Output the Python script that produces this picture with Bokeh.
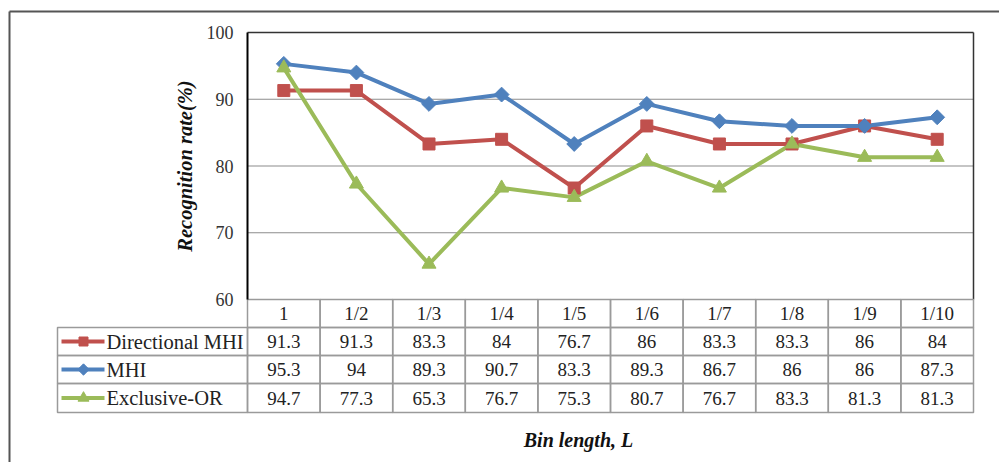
import math
from bokeh.plotting import figure
from bokeh.models import Range1d, LinearAxis, FixedTicker
from bokeh.core.properties import value
from bokeh.embed import file_html
from bokeh.resources import INLINE

# ---- data ----
bins = ["1", "1/2", "1/3", "1/4", "1/5", "1/6", "1/7", "1/8", "1/9", "1/10"]
directional_mhi = [91.3, 91.3, 83.3, 84, 76.7, 86, 83.3, 83.3, 86, 84]
mhi = [95.3, 94, 89.3, 90.7, 83.3, 89.3, 86.7, 86, 86, 87.3]
exclusive_or = [94.7, 77.3, 65.3, 76.7, 75.3, 80.7, 76.7, 83.3, 81.3, 81.3]
series_names = ["Directional MHI", "MHI", "Exclusive-OR"]
y_ticks = [60, 70, 80, 90, 100]
y_title = "Recognition rate(%)"
x_title = "Bin length, L"

# ---- canvas / plot-area geometry (pixels) ----
W, H = 999, 462
PL, PR, PT, PB = 247, 973, 32, 299          # plot area edges
YMIN, YMAX = y_ticks[0], y_ticks[-1]
n = len(bins)
xpx = (PR - PL) / n
ypx = (PB - PT) / (YMAX - YMIN)


def X(px):
    return (px - PL) / xpx


def Y(py):
    return YMIN + (PB - py) / ypx


FONT = value("Liberation Serif")
COLORS = ["#C0504D", "#4F81BD", "#9BBB59"]
GRID = "#9a9a9a"

p = figure(width=W, height=H, output_backend="svg", toolbar_location=None,
           x_range=Range1d(X(0), X(W)), y_range=Range1d(Y(H), Y(0)),
           x_axis_type=None, y_axis_type=None, min_border=0)
p.outline_line_color = None
p.background_fill_color = "white"
p.border_fill_color = "white"

# outer chart border
p.segment(x0=[X(9)], y0=[Y(11)], x1=[X(W + 5)], y1=[Y(11)], line_color="#555555", line_width=2)
p.segment(x0=[X(9)], y0=[Y(11)], x1=[X(9)], y1=[Y(H + 5)], line_color="#555555", line_width=2)

# horizontal gridlines and plot-area frame
inner = [t for t in y_ticks if YMIN < t < YMAX]
p.segment(x0=[0] * len(inner), y0=inner, x1=[n] * len(inner), y1=inner,
          line_color="#8c8c8c", line_width=1.2)
p.segment(x0=[0], y0=[YMAX], x1=[n], y1=[YMAX], line_color="#333333", line_width=1.5)
p.segment(x0=[n], y0=[YMIN], x1=[n], y1=[YMAX], line_color="#333333", line_width=1.5)

# y axis pinned to the left edge of the plot area
yaxis = LinearAxis(fixed_location=0, bounds=(YMIN, YMAX), ticker=FixedTicker(ticks=y_ticks),
                   axis_label=y_title)
yaxis.axis_line_color = "black"
yaxis.axis_line_width = 2
yaxis.major_tick_out = 0
yaxis.major_tick_in = 0
yaxis.minor_tick_out = 0
yaxis.minor_tick_in = 0
yaxis.major_label_standoff = 14
yaxis.major_label_text_font = "Liberation Serif"
yaxis.major_label_text_font_size = "18px"
yaxis.major_label_text_color = "#333333"
yaxis.axis_label_text_font = "Liberation Serif"
yaxis.axis_label_text_font_style = "bold italic"
yaxis.axis_label_text_font_size = "20.5px"
yaxis.axis_label_text_color = "#111111"
yaxis.axis_label_standoff = 8
p.add_layout(yaxis, "left")

# series lines and markers
xs = [i + 0.5 for i in range(n)]
series = [directional_mhi, mhi, exclusive_or]
for vals, c in zip(series, COLORS):
    p.line(xs, vals, line_color=c, line_width=4)
p.scatter(xs, directional_mhi, marker="square", size=12, fill_color=COLORS[0], line_color=COLORS[0])
p.scatter(xs, mhi, marker="square", angle=math.pi / 4, size=10.5, fill_color=COLORS[1], line_color=COLORS[1])
p.scatter(xs, exclusive_or, marker="triangle", size=14, fill_color=COLORS[2], line_color=COLORS[2])

# ---- data table below the plot ----
row_edges = [299, 327, 355, 383, 412]
LEG_L = 57
ry = [Y(v) for v in row_edges]

# header row (category labels)
p.quad(left=list(range(n)), right=list(range(1, n + 1)), top=[ry[0]] * n, bottom=[ry[1]] * n,
       fill_color=None, line_color=GRID, line_width=1.5)
hy = Y((row_edges[0] + row_edges[1]) / 2)
p.text(x=xs, y=[hy] * n, text=bins, text_align="center", text_baseline="middle",
       text_font=FONT, text_font_size="19px", text_color="#222222")

for r, (name, vals, c) in enumerate(zip(series_names, series, COLORS)):
    top, bot = ry[r + 1], ry[r + 2]
    cy = Y((row_edges[r + 1] + row_edges[r + 2]) / 2)
    p.quad(left=[X(LEG_L)] + list(range(n)), right=[0] + list(range(1, n + 1)),
           top=[top] * (n + 1), bottom=[bot] * (n + 1),
           fill_color=None, line_color=GRID, line_width=1.5)
    p.text(x=xs, y=[cy] * n, text=[f"{v:g}" for v in vals], text_align="center",
           text_baseline="middle", text_font=FONT, text_font_size="19px", text_color="#222222")
    # legend key
    p.segment(x0=[X(61)], y0=[cy], x1=[X(104)], y1=[cy], line_color=c, line_width=4)
    if r == 0:
        p.scatter([X(83)], [cy], marker="square", size=9, fill_color=c, line_color=c)
    elif r == 1:
        p.scatter([X(83)], [cy], marker="square", angle=math.pi / 4, size=8, fill_color=c, line_color=c)
    else:
        p.scatter([X(83)], [cy], marker="triangle", size=11, fill_color=c, line_color=c)
    p.text(x=[X(106)], y=[cy], text=[name], text_align="left", text_baseline="middle",
           text_font=FONT, text_font_size="20.5px", text_color="#222222")

# x axis title
p.text(x=[X(578)], y=[Y(439)], text=[x_title], text_align="center", text_baseline="middle",
       text_font=FONT, text_font_style="bold italic", text_font_size="20px", text_color="#111111")

open("out.html", "w").write(file_html(p, INLINE))
